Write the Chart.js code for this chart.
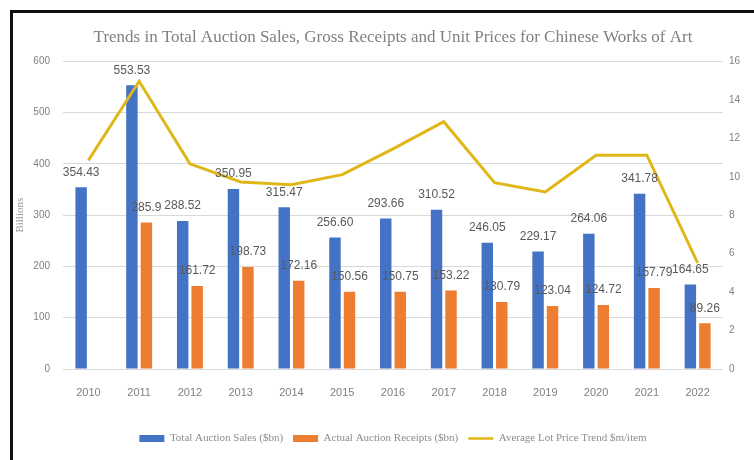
<!DOCTYPE html>
<html>
<head>
<meta charset="utf-8">
<script src="https://cdn.jsdelivr.net/npm/chart.js@4/dist/chart.umd.min.js"></script>
<style>
  html, body { margin: 0; padding: 0; background: #ffffff; }
  #wrap { width: 754px; height: 460px; position: relative; }
</style>
</head>
<body>
<div id="wrap"><canvas id="chart" width="754" height="460"></canvas></div>
<script>
// Auction market for Chinese works of art, 2010-2022
const years = ['2010', '2011', '2012', '2013', '2014', '2015', '2016', '2017', '2018', '2019', '2020', '2021', '2022'];
// Values kept as printed so the bar labels read exactly as published
const totalSales = ['354.43', '553.53', '288.52', '350.95', '315.47', '256.60', '293.66', '310.52', '246.05', '229.17', '264.06', '341.78', '164.65'];
const actualReceipts = [null, '285.9', '161.72', '198.73', '172.16', '150.56', '150.75', '153.22', '130.79', '123.04', '124.72', '157.79', '89.26'];
const avgLotPrice = [10.85, 14.97, 10.67, 9.73, 9.59, 10.11, 11.45, 12.86, 9.69, 9.21, 11.12, 11.12, 5.52];
const leftTicks = [0, 100, 200, 300, 400, 500, 600];
const rightTicks = [0, 2, 4, 6, 8, 10, 12, 14, 16];

const BLUE = '#4472c4';
const ORANGE = '#ed7d31';
const GOLD = '#dfb719';

// Thin black frame along the top and left edges
const framePlugin = {
  id: 'frame',
  beforeDraw(chart) {
    const c = chart.ctx;
    c.save();
    c.fillStyle = '#ffffff';
    c.fillRect(0, 0, chart.width, chart.height);
    c.fillStyle = '#111111';
    c.fillRect(10, 10, chart.width - 10, 3);
    c.fillRect(10, 10, 3, chart.height - 10);
    c.restore();
  }
};

// Value labels above each bar, printed from the same strings as the data
const barLabelPlugin = {
  id: 'barLabels',
  afterDatasetsDraw(chart) {
    const c = chart.ctx;
    c.save();
    c.font = '12px "Liberation Sans", Arial, sans-serif';
    c.fillStyle = '#595959';
    c.textAlign = 'center';
    c.textBaseline = 'middle';
    chart.data.datasets.forEach((ds, di) => {
      if (ds.type !== 'bar') return;
      const meta = chart.getDatasetMeta(di);
      meta.data.forEach((bar, i) => {
        const txt = ds.labelText[i];
        if (txt == null) return;
        c.fillText(txt, bar.x, bar.y - 15);
      });
    });
    c.restore();
  }
};

const tickFont = { family: '"Liberation Sans", Arial, sans-serif', size: 10 };

new Chart(document.getElementById('chart'), {
  data: {
    labels: years,
    datasets: [
      {
        type: 'bar',
        label: 'Total Auction Sales ($bn)',
        data: totalSales.map(v => v == null ? null : Number(v)),
        labelText: totalSales,
        backgroundColor: BLUE,
        borderWidth: 0,
        yAxisID: 'y',
        barPercentage: 0.79,
        categoryPercentage: 0.571,
        order: 1
      },
      {
        type: 'bar',
        label: 'Actual Auction Receipts ($bn)',
        data: actualReceipts.map(v => v == null ? null : Number(v)),
        labelText: actualReceipts,
        backgroundColor: ORANGE,
        borderWidth: 0,
        yAxisID: 'y',
        barPercentage: 0.79,
        categoryPercentage: 0.571,
        order: 1
      },
      {
        type: 'line',
        label: 'Average Lot Price Trend $m/item',
        data: avgLotPrice,
        borderColor: GOLD,
        backgroundColor: GOLD,
        borderWidth: 3,
        pointRadius: 0,
        tension: 0,
        yAxisID: 'y1',
        order: 0
      }
    ]
  },
  options: {
    responsive: false,
    animation: false,
    layout: { padding: { left: 13, right: 0, top: 13, bottom: 6 } },
    plugins: {
      tooltip: { enabled: false },
      title: {
        display: true,
        fullSize: false,
        text: 'Trends in Total Auction Sales, Gross Receipts and Unit Prices for Chinese Works of Art',
        color: '#808080',
        font: { family: '"Liberation Serif", "Times New Roman", serif', size: 17, weight: 'normal' },
        padding: { top: 14, bottom: 14 }
      },
      legend: {
        position: 'bottom',
        fullSize: false,
        labels: {
          sort: (a, b) => a.datasetIndex - b.datasetIndex,
          color: '#8c8c8c',
          font: { family: '"Liberation Serif", "Times New Roman", serif', size: 11 },
          usePointStyle: true,
          pointStyleWidth: 25,
          boxHeight: 7,
          padding: 10,
          generateLabels(chart) {
            const items = Chart.defaults.plugins.legend.labels.generateLabels(chart);
            items.forEach(it => {
              if (it.datasetIndex === 2) {
                it.pointStyle = 'line';
                it.lineWidth = 2.5;
                it.strokeStyle = GOLD;
              } else {
                it.pointStyle = 'rect';
                it.lineWidth = 0;
              }
            });
            return items;
          }
        }
      }
    },
    scales: {
      x: {
        grid: { display: false },
        border: { display: false },
        ticks: { color: '#7f7f7f', font: { family: '"Liberation Sans", Arial, sans-serif', size: 11 }, padding: 9 },
        afterFit(scale) { scale.height = 54; }
      },
      y: {
        position: 'left',
        min: 0,
        max: 600,
        afterBuildTicks(scale) { scale.ticks = leftTicks.map(v => ({ value: v })); },
        grid: { color: '#d9d9d9', drawTicks: false, lineWidth: 1 },
        border: { display: false },
        ticks: { color: '#7f7f7f', font: tickFont, padding: 13 },
        title: {
          display: true,
          text: 'Billions',
          color: '#9a9a9a',
          font: { family: '"Liberation Serif", "Times New Roman", serif', size: 11 },
          padding: { top: 1, bottom: 0 }
        },
        afterFit(scale) { scale.width = 50; }
      },
      y1: {
        position: 'right',
        min: 0,
        max: 16,
        afterBuildTicks(scale) { scale.ticks = rightTicks.map(v => ({ value: v })); },
        grid: { display: false, drawTicks: false },
        border: { display: false },
        ticks: { color: '#7f7f7f', font: tickFont, padding: 6 },
        afterFit(scale) { scale.width = 31; }
      }
    }
  },
  plugins: [framePlugin, barLabelPlugin]
});
</script>
</body>
</html>
